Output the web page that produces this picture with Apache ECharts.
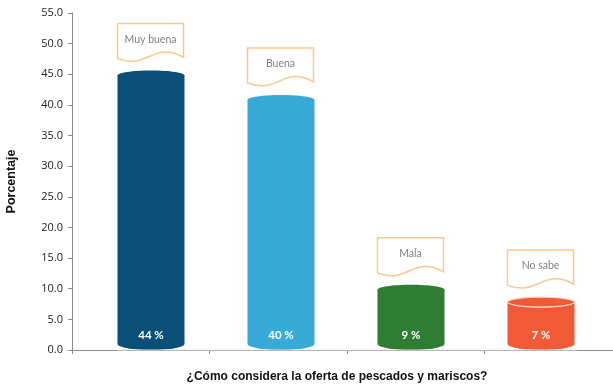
<!DOCTYPE html>
<html>
<head>
<meta charset="utf-8">
<script src="https://cdn.jsdelivr.net/npm/echarts@6/dist/echarts.min.js"></script>
<style>
  html, body { margin: 0; padding: 0; background: #fff; }
  #chart { width: 613px; height: 386px; }
</style>
</head>
<body>
<div id="chart"></div>
<script>
// Survey answers and their percentages
const categories = ['Muy buena', 'Buena', 'Mala', 'No sabe'];
const values = [44, 40, 9, 7];
const valueLabels = ['44 %', '40 %', '9 %', '7 %'];
const yTicks = [0, 5, 10, 15, 20, 25, 30, 35, 40, 45, 50, 55];

// Cylinder colours, one per answer
const barColors = ['#0a4f78', '#37aad7', '#2e7d32', '#f15a36'];
const capStrokes = [null, null, null, '#ffd9cc'];

const chart = echarts.init(document.getElementById('chart'), null, { renderer: 'canvas' });

const BAR_W = 67;
const CAP_RY = 5;
const BASE_RY = 6;

function cylinder(params, api) {
  const i = params.dataIndex;
  const v = api.value(1);
  const top = api.coord([api.value(0), v]);
  const base = api.coord([api.value(0), 0]);
  const cx = top[0];
  const x0 = cx - BAR_W / 2;
  const capY = top[1] - 5;
  const baseY = base[1] - BASE_RY;
  const color = barColors[i];
  const children = [
    { type: 'rect', shape: { x: x0, y: capY, width: BAR_W, height: baseY - capY }, style: { fill: color } },
    { type: 'ellipse', shape: { cx: cx, cy: baseY, rx: BAR_W / 2, ry: BASE_RY }, style: { fill: color } },
    { type: 'ellipse', shape: { cx: cx, cy: capY, rx: BAR_W / 2, ry: CAP_RY },
      style: { fill: color, stroke: capStrokes[i] || color, lineWidth: capStrokes[i] ? 1.2 : 0 } },
    { type: 'text', style: { x: cx, y: base[1] - 15, text: valueLabels[i], fill: '#ffffff',
      font: 'bold 11.5px Lato', align: 'center', verticalAlign: 'middle' } }
  ];
  // Wavy name banner above the cylinder
  const bx = x0;
  const by = capY - CAP_RY - 47;
  const w = BAR_W - 1;
  const path = 'M0,0 L' + w + ',0 L' + w + ',34 C36,17 30,47 0,35 Z';
  children.push({ type: 'path', x: bx, y: by, shape: { pathData: path },
    style: { fill: '#ffffff', stroke: '#fcc78c', lineWidth: 1.5 } });
  children.push({ type: 'text', style: { x: bx + w / 2, y: by + 16, text: categories[i], fill: '#808080',
    font: '10.5px Lato', align: 'center', verticalAlign: 'middle' } });
  return { type: 'group', children: children };
}

chart.setOption({
  animation: false,
  grid: [
    { left: 72, top: 13, width: 550, bottom: 36, outerBoundsMode: 'none', containLabel: false },
    { left: 86, top: 13, width: 520, bottom: 36, outerBoundsMode: 'none', containLabel: false }
  ],
  xAxis: [
    {
      type: 'category', gridIndex: 0, data: categories,
      axisLine: { lineStyle: { color: '#8c8c8c', width: 1 } },
      axisTick: { show: true, length: 4, lineStyle: { color: '#8c8c8c' } },
      axisLabel: { show: false },
      name: '¿Cómo considera la oferta de pescados y mariscos?',
      nameLocation: 'middle', nameGap: 21,
      nameTextStyle: { fontFamily: 'Liberation Sans', fontWeight: 'bold', fontSize: 12, color: '#111', padding: [0, 20, 0, 0] }
    },
    { type: 'category', gridIndex: 1, data: categories, show: false }
  ],
  yAxis: [
    {
      type: 'value', gridIndex: 0, min: 0, max: 55, interval: 5,
      axisLine: { show: true, lineStyle: { color: '#8c8c8c' } },
      axisTick: { show: true, length: 4, lineStyle: { color: '#8c8c8c' } },
      splitLine: { show: false },
      axisLabel: { formatter: v => yTicks.includes(v) ? v.toFixed(1) : '', fontFamily: 'Open Sans', fontSize: 11, color: '#222', margin: 9 },
      name: 'Porcentaje', nameLocation: 'middle', nameGap: 54, nameRotate: 90,
      nameTextStyle: { fontFamily: 'Liberation Sans', fontWeight: 'bold', fontSize: 12.5, color: '#111' }
    },
    { type: 'value', gridIndex: 1, min: 0, max: 55, show: false }
  ],
  graphic: [
    { type: 'line', shape: { x1: 117, y1: 350, x2: 577, y2: 350 }, style: { stroke: '#e3e3e3', lineWidth: 1 }, z: 100 }
  ],
  series: [{
    type: 'custom', xAxisIndex: 1, yAxisIndex: 1,
    data: values.map((v, i) => [i, v]),
    renderItem: cylinder,
    z: 10
  }]
});
</script>
</body>
</html>
